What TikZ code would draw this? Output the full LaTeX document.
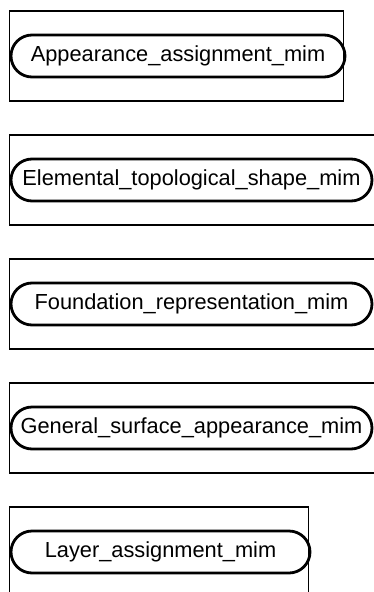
\documentclass[tikz,border=0pt]{standalone}
\usepackage{fontspec}
\setmainfont{Liberation Sans}
\usetikzlibrary{shapes.misc,positioning}

\begin{document}
\begin{tikzpicture}[
            x=1pt, y=-1pt,
            schema/.style={draw, line width=1.4pt, outer sep=0pt, inner sep=0pt,
                minimum height=90pt, anchor=north west},
            mim/.style={draw, rounded rectangle, line width=2.8pt, inner sep=0pt,
                minimum height=42pt, font=\fontsize{21.8}{26}\selectfont}
        ]
        \useasboundingbox (0,0) rectangle (373,592);
        % outer boxes, stacked
        \node[schema, minimum width=334pt] (box1) at (9.5,11) {};
        \node[schema, minimum width=366pt, below=34pt of box1.south west, anchor=north west] (box2) {};
        \node[schema, minimum width=366pt, below=34pt of box2.south west, anchor=north west] (box3) {};
        \node[schema, minimum width=366pt, below=34pt of box3.south west, anchor=north west] (box4) {};
        \node[schema, minimum width=299pt, below=34pt of box4.south west, anchor=north west] (box5) {};
        % schema names
        \node[mim, minimum width=334pt, xshift=1.5pt] (appear) at (box1) {Appearance\_assignment\_mim};
        \node[mim, minimum width=361pt, xshift=-1pt] (elem) at (box2) {Elemental\_topological\_shape\_mim};
        \node[mim, minimum width=361pt, xshift=-1pt] (found) at (box3) {Foundation\_representation\_mim};
        \node[mim, minimum width=361pt, xshift=-1pt] (general) at (box4) {General\_surface\_appearance\_mim};
        \node[mim, minimum width=299pt, xshift=1.5pt] (layer) at (box5) {Layer\_assignment\_mim};
        \end{tikzpicture}
\end{document}
